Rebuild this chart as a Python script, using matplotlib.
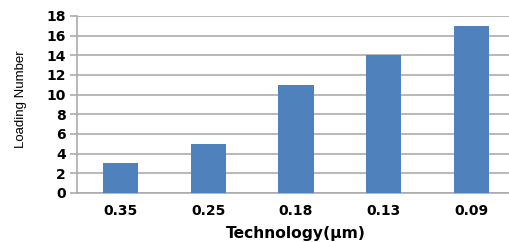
import numpy as np
from matplotlib import pyplot as plt

technology = ['0.35', '0.25', '0.18', '0.13', '0.09']
loading = [3, 5, 11, 14, 17]

fig = plt.figure(figsize=(5.09, 2.42), dpi=100)
ax = fig.add_axes([0.151, 0.2025, 0.861, 0.7315])

x = np.arange(len(technology))
ax.bar(x, loading, width=0.4, color='#4f81bd', zorder=3)

ax.set_xlim(-0.5, len(technology) - 0.5)
ax.set_ylim(0, 18)
ax.set_yticks(range(0, 19, 2))
ax.set_xticks(x)
ax.set_xticklabels(technology)
ax.yaxis.grid(True, color='#ababab', linewidth=1.2, zorder=0)

for s in ['top', 'right']:
    ax.spines[s].set_visible(False)
for s in ['left', 'bottom']:
    ax.spines[s].set_color('#ababab')
    ax.spines[s].set_linewidth(1.2)

ax.tick_params(axis='y', length=5, color='#ababab', width=1.2, pad=3)
ax.tick_params(axis='x', length=0, pad=8)
for lab in ax.get_yticklabels() + ax.get_xticklabels():
    lab.set_fontweight('bold')
    lab.set_fontsize(10)

ax.set_ylabel('Loading Number', fontsize=9.5, family='Liberation Sans')
ax.yaxis.set_label_coords(-0.114, 0.53)
ax.set_xlabel('Technology(\u03bcm)', fontsize=11.2, fontweight='bold')
ax.xaxis.set_label_coords(0.5, -0.185)

plt.savefig('out.png', dpi=100)
